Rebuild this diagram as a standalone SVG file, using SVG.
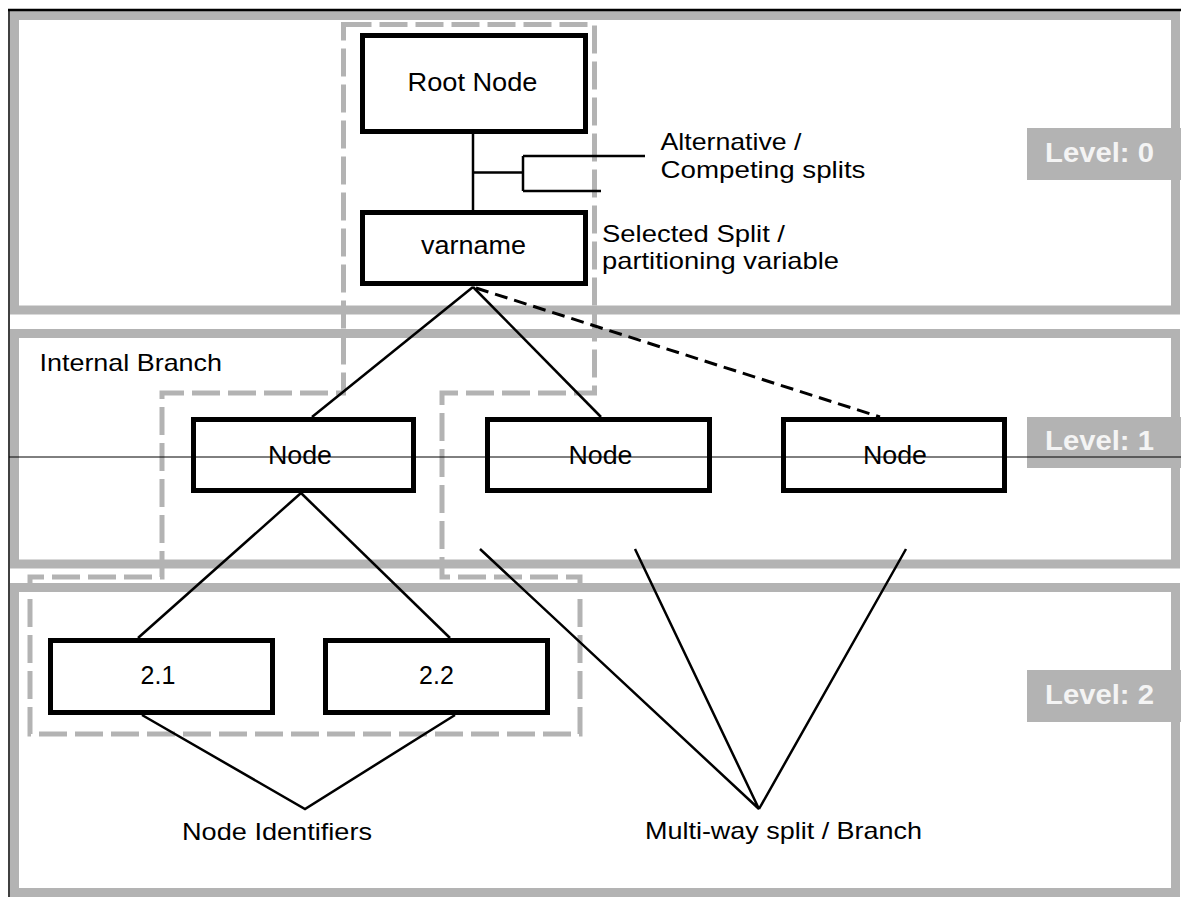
<svg xmlns="http://www.w3.org/2000/svg" width="1181" height="897" viewBox="0 0 1181 897">
<style>
  text { font-family: "Liberation Sans", Arial, sans-serif; fill: #000; }
  .frame { fill: none; stroke: #b3b3b3; stroke-width: 9; }
  .tag { fill: #b3b3b3; }
  .tagtxt { font-size: 28px; font-weight: bold; fill: #f4f4f4; }
  .box { fill: #fff; stroke: #000; stroke-width: 5; }
  .lbl { font-size: 25px; text-anchor: middle; }
  .ann { font-size: 24px; }
  .ln { fill: none; stroke: #000; stroke-width: 2.5; }
  .dash { fill: none; stroke: #000; stroke-width: 3; stroke-dasharray: 13 7; }
  .hl { fill: none; stroke: #b3b3b3; stroke-width: 5; stroke-dasharray: 28 8; }
</style>
<rect x="0" y="0" width="1181" height="897" fill="#fff"/>

<g id="levels">
  <g id="level-0">
    <rect class="frame" x="14.5" y="15.5" width="1161" height="294.5"/>
    <rect class="tag" x="1027" y="128" width="154" height="52"/>
    <text class="tagtxt" x="1045" y="162" textLength="109" lengthAdjust="spacingAndGlyphs">Level: 0</text>
  </g>
  <g id="level-1">
    <rect class="frame" x="14.5" y="333.5" width="1161" height="230.5"/>
    <rect class="tag" x="1027" y="417" width="154" height="51"/>
    <text class="tagtxt" x="1045" y="450" textLength="109" lengthAdjust="spacingAndGlyphs">Level: 1</text>
  </g>
  <g id="level-2">
    <rect class="frame" x="14.5" y="587.5" width="1161" height="305"/>
    <rect class="tag" x="1027" y="670" width="154" height="52"/>
    <text class="tagtxt" x="1045" y="704" textLength="109" lengthAdjust="spacingAndGlyphs">Level: 2</text>
  </g>
</g>

<g id="path-highlight">
  <polygon class="hl" points="343.5,24.5 594.5,24.5 594.5,393 442,393 442,577 580,577 580,734 30,734 30,577 162,577 162,393 343.5,393"/>
</g>

<g id="connectors">
  <path class="ln" d="M473,134 V210"/>
  <path class="ln" d="M473,172.5 H523 M523,156 V191 M523,156 H645 M523,191 H601"/>
  <path class="ln" d="M473,287 L312,417"/>
  <path class="ln" d="M473,287 L601,417"/>
  <path class="dash" d="M476,288 L880,417"/>
  <path class="ln" d="M301,493 L138,638"/>
  <path class="ln" d="M301,493 L450,638"/>
  <path class="ln" d="M142,715 L305,809 L455,715"/>
  <path class="ln" d="M480,549 L759,809 L635,549 M759,809 L906,549"/>
</g>

<g id="node-root">
  <rect class="box" x="362.5" y="35.5" width="223" height="96"/>
  <text class="lbl" x="472.5" y="91" textLength="130" lengthAdjust="spacingAndGlyphs">Root Node</text>
</g>
<g id="node-varname">
  <rect class="box" x="362.5" y="212.5" width="223" height="71"/>
  <text class="lbl" x="473.5" y="254" textLength="105" lengthAdjust="spacingAndGlyphs">varname</text>
</g>
<g id="node-1a">
  <rect class="box" x="193.5" y="419.5" width="220" height="71"/>
  <text class="lbl" x="300" y="464" textLength="64" lengthAdjust="spacingAndGlyphs">Node</text>
</g>
<g id="node-1b">
  <rect class="box" x="487.5" y="419.5" width="222" height="71"/>
  <text class="lbl" x="600.5" y="464" textLength="64" lengthAdjust="spacingAndGlyphs">Node</text>
</g>
<g id="node-1c">
  <rect class="box" x="783.5" y="419.5" width="221" height="71"/>
  <text class="lbl" x="895" y="464" textLength="64" lengthAdjust="spacingAndGlyphs">Node</text>
</g>
<g id="node-2-1">
  <rect class="box" x="50.5" y="640.5" width="222" height="72"/>
  <text class="lbl" x="158" y="684">2.1</text>
</g>
<g id="node-2-2">
  <rect class="box" x="325.5" y="640.5" width="222" height="72"/>
  <text class="lbl" x="436.5" y="684">2.2</text>
</g>

<g id="annotations">
  <text class="ann" x="660.5" y="149.5" textLength="141" lengthAdjust="spacingAndGlyphs">Alternative /</text>
  <text class="ann" x="660.5" y="177.5" textLength="205" lengthAdjust="spacingAndGlyphs">Competing splits</text>
  <text class="ann" x="602" y="241.5" textLength="183" lengthAdjust="spacingAndGlyphs">Selected Split /</text>
  <text class="ann" x="602" y="269" textLength="237" lengthAdjust="spacingAndGlyphs">partitioning variable</text>
  <text class="ann" x="39.5" y="370.5" textLength="182.5" lengthAdjust="spacingAndGlyphs">Internal Branch</text>
  <text class="ann" x="182" y="840" textLength="190" lengthAdjust="spacingAndGlyphs">Node Identifiers</text>
  <text class="ann" x="645" y="839" textLength="277" lengthAdjust="spacingAndGlyphs">Multi-way split / Branch</text>
</g>

<g id="border">
  <line x1="8" y1="10" x2="1181" y2="10" stroke="#000" stroke-width="2.5"/>
  <line x1="9" y1="10" x2="9" y2="897" stroke="#000" stroke-width="1.5"/>
  <line x1="9" y1="457" x2="1181" y2="457" stroke="#000" stroke-width="1"/>
</g>
</svg>
